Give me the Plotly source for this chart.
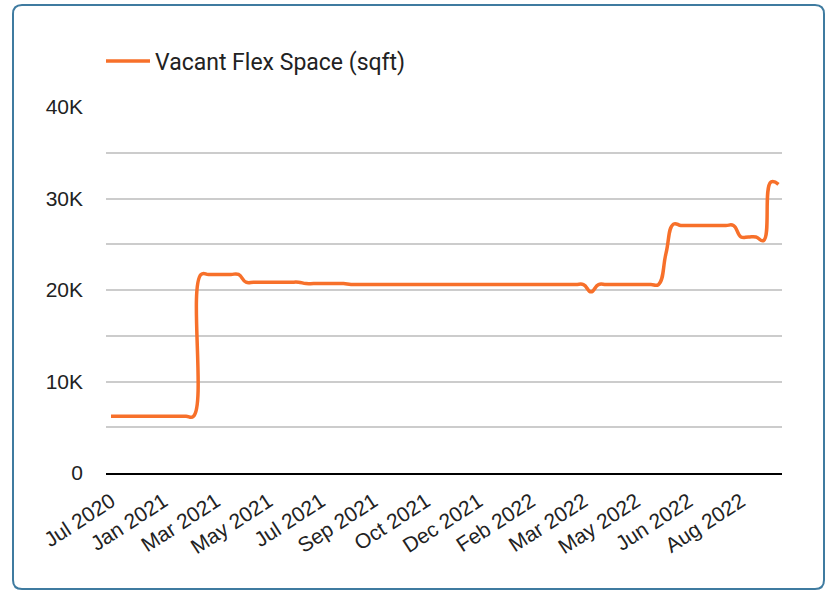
import plotly.graph_objects as go

# ---- data ----
series_name = "Vacant Flex Space (sqft)"
tick_labels = ["Jul 2020", "Jan 2021", "Mar 2021", "May 2021", "Jul 2021", "Sep 2021",
               "Oct 2021", "Dec 2021", "Feb 2022", "Mar 2022", "May 2022", "Jun 2022",
               "Aug 2022"]
values = [
    6200, 6200, 6200, 6200, 6200, 6200, 6200, 6200, 6200, 6200, 6200, 6200,   # 0-11
    21700, 21700, 21700, 21700, 21700, 21700,                                 # 12-17
    20850, 20850, 20850, 20850, 20850, 20850, 20850, 20850,                   # 18-25
    20700, 20700, 20700, 20700, 20700, 20700,                                 # 26-31
    20600, 20600, 20600, 20600, 20600, 20600, 20600, 20600, 20600, 20600,     # 32-41
    20600, 20600, 20600, 20600, 20600, 20600, 20600, 20600, 20600, 20600,     # 42-51
    20600, 20600, 20600, 20600, 20600, 20600, 20600, 20600, 20600, 20600,     # 52-61
    20600, 20600,                                                             # 62-63
    19800,                                                                    # 64
    20600, 20600, 20600, 20600, 20600, 20600, 20600, 20600, 20600,            # 65-73
    24000, 27200,                                                             # 74-75
    27050, 27050, 27050, 27050, 27050, 27050, 27050, 27050,                   # 76-83
    25800, 25800, 25800, 25400,                                               # 84-87
    31800, 31550,                                                             # 88-89
]
label_every = 7
y_tick_values = [0, 10000, 20000, 30000, 40000]
y_tick_text = ["0", "10K", "20K", "30K", "40K"]

# ---- layout geometry ----
W, H = 832, 591
L, R, T, B = 106, 50, 107, 118
pw, ph = W - L - R, H - T - B

def px_x(x):
    return (x - L) / pw

def px_y(y):
    return (H - B - y) / ph

x_idx = list(range(len(values)))
tickvals = x_idx[::label_every][:len(tick_labels)]

fig = go.Figure()
fig.add_trace(go.Scatter(
    x=x_idx, y=values, mode="lines", name=series_name,
    line=dict(color="#f7702a", width=3.5, shape="spline", smoothing=1.3),
    hoverinfo="skip",
))

# rounded border around the whole card
x0, x1 = px_x(13), px_x(824)
y0, y1 = px_y(589), px_y(5)
rx, ry = 9 / pw, 9 / ph
path = (f"M{x0+rx},{y1} L{x1-rx},{y1} Q{x1},{y1} {x1},{y1-ry} "
        f"L{x1},{y0+ry} Q{x1},{y0} {x1-rx},{y0} L{x0+rx},{y0} "
        f"Q{x0},{y0} {x0},{y0+ry} L{x0},{y1-ry} Q{x0},{y1} {x0+rx},{y1} Z")
fig.add_shape(type="path", path=path, xref="paper", yref="paper",
              line=dict(color="#3f7ba0", width=2), layer="above")

fig.update_layout(
    width=W, height=H,
    margin=dict(l=L, r=R, t=T, b=B, pad=0),
    paper_bgcolor="white", plot_bgcolor="white",
    font=dict(family="Liberation Sans, Arial, sans-serif", size=21, color="#222222"),
    showlegend=True,
    legend=dict(orientation="h", x=px_x(101), xanchor="left", y=px_y(61), yanchor="middle",
                font=dict(family="Roboto, sans-serif", size=23, color="#222222"),
                itemwidth=44, bgcolor="rgba(0,0,0,0)"),
    xaxis=dict(
        range=[-0.67, 89.47], tickmode="array", tickvals=tickvals, ticktext=tick_labels,
        tickangle=-33, showgrid=False, zeroline=False,
        showline=True, linecolor="black", linewidth=2,
        ticks="", ticklabelstandoff=6,
        tickfont=dict(size=21, color="#222222"),
    ),
    yaxis=dict(
        range=[0, 40000], tickmode="array", tickvals=y_tick_values, ticktext=y_tick_text,
        showgrid=True, gridcolor="#cccccc", gridwidth=1.5, zeroline=False,
        minor=dict(dtick=5000, showgrid=True, gridcolor="#cccccc", gridwidth=1.5),
        ticks="", ticklabelstandoff=22,
        tickfont=dict(size=21, color="#222222"),
    ),
)

fig.write_html("out.html", config={"displayModeBar": False},
               post_script="document.body.style.margin='0px';")
